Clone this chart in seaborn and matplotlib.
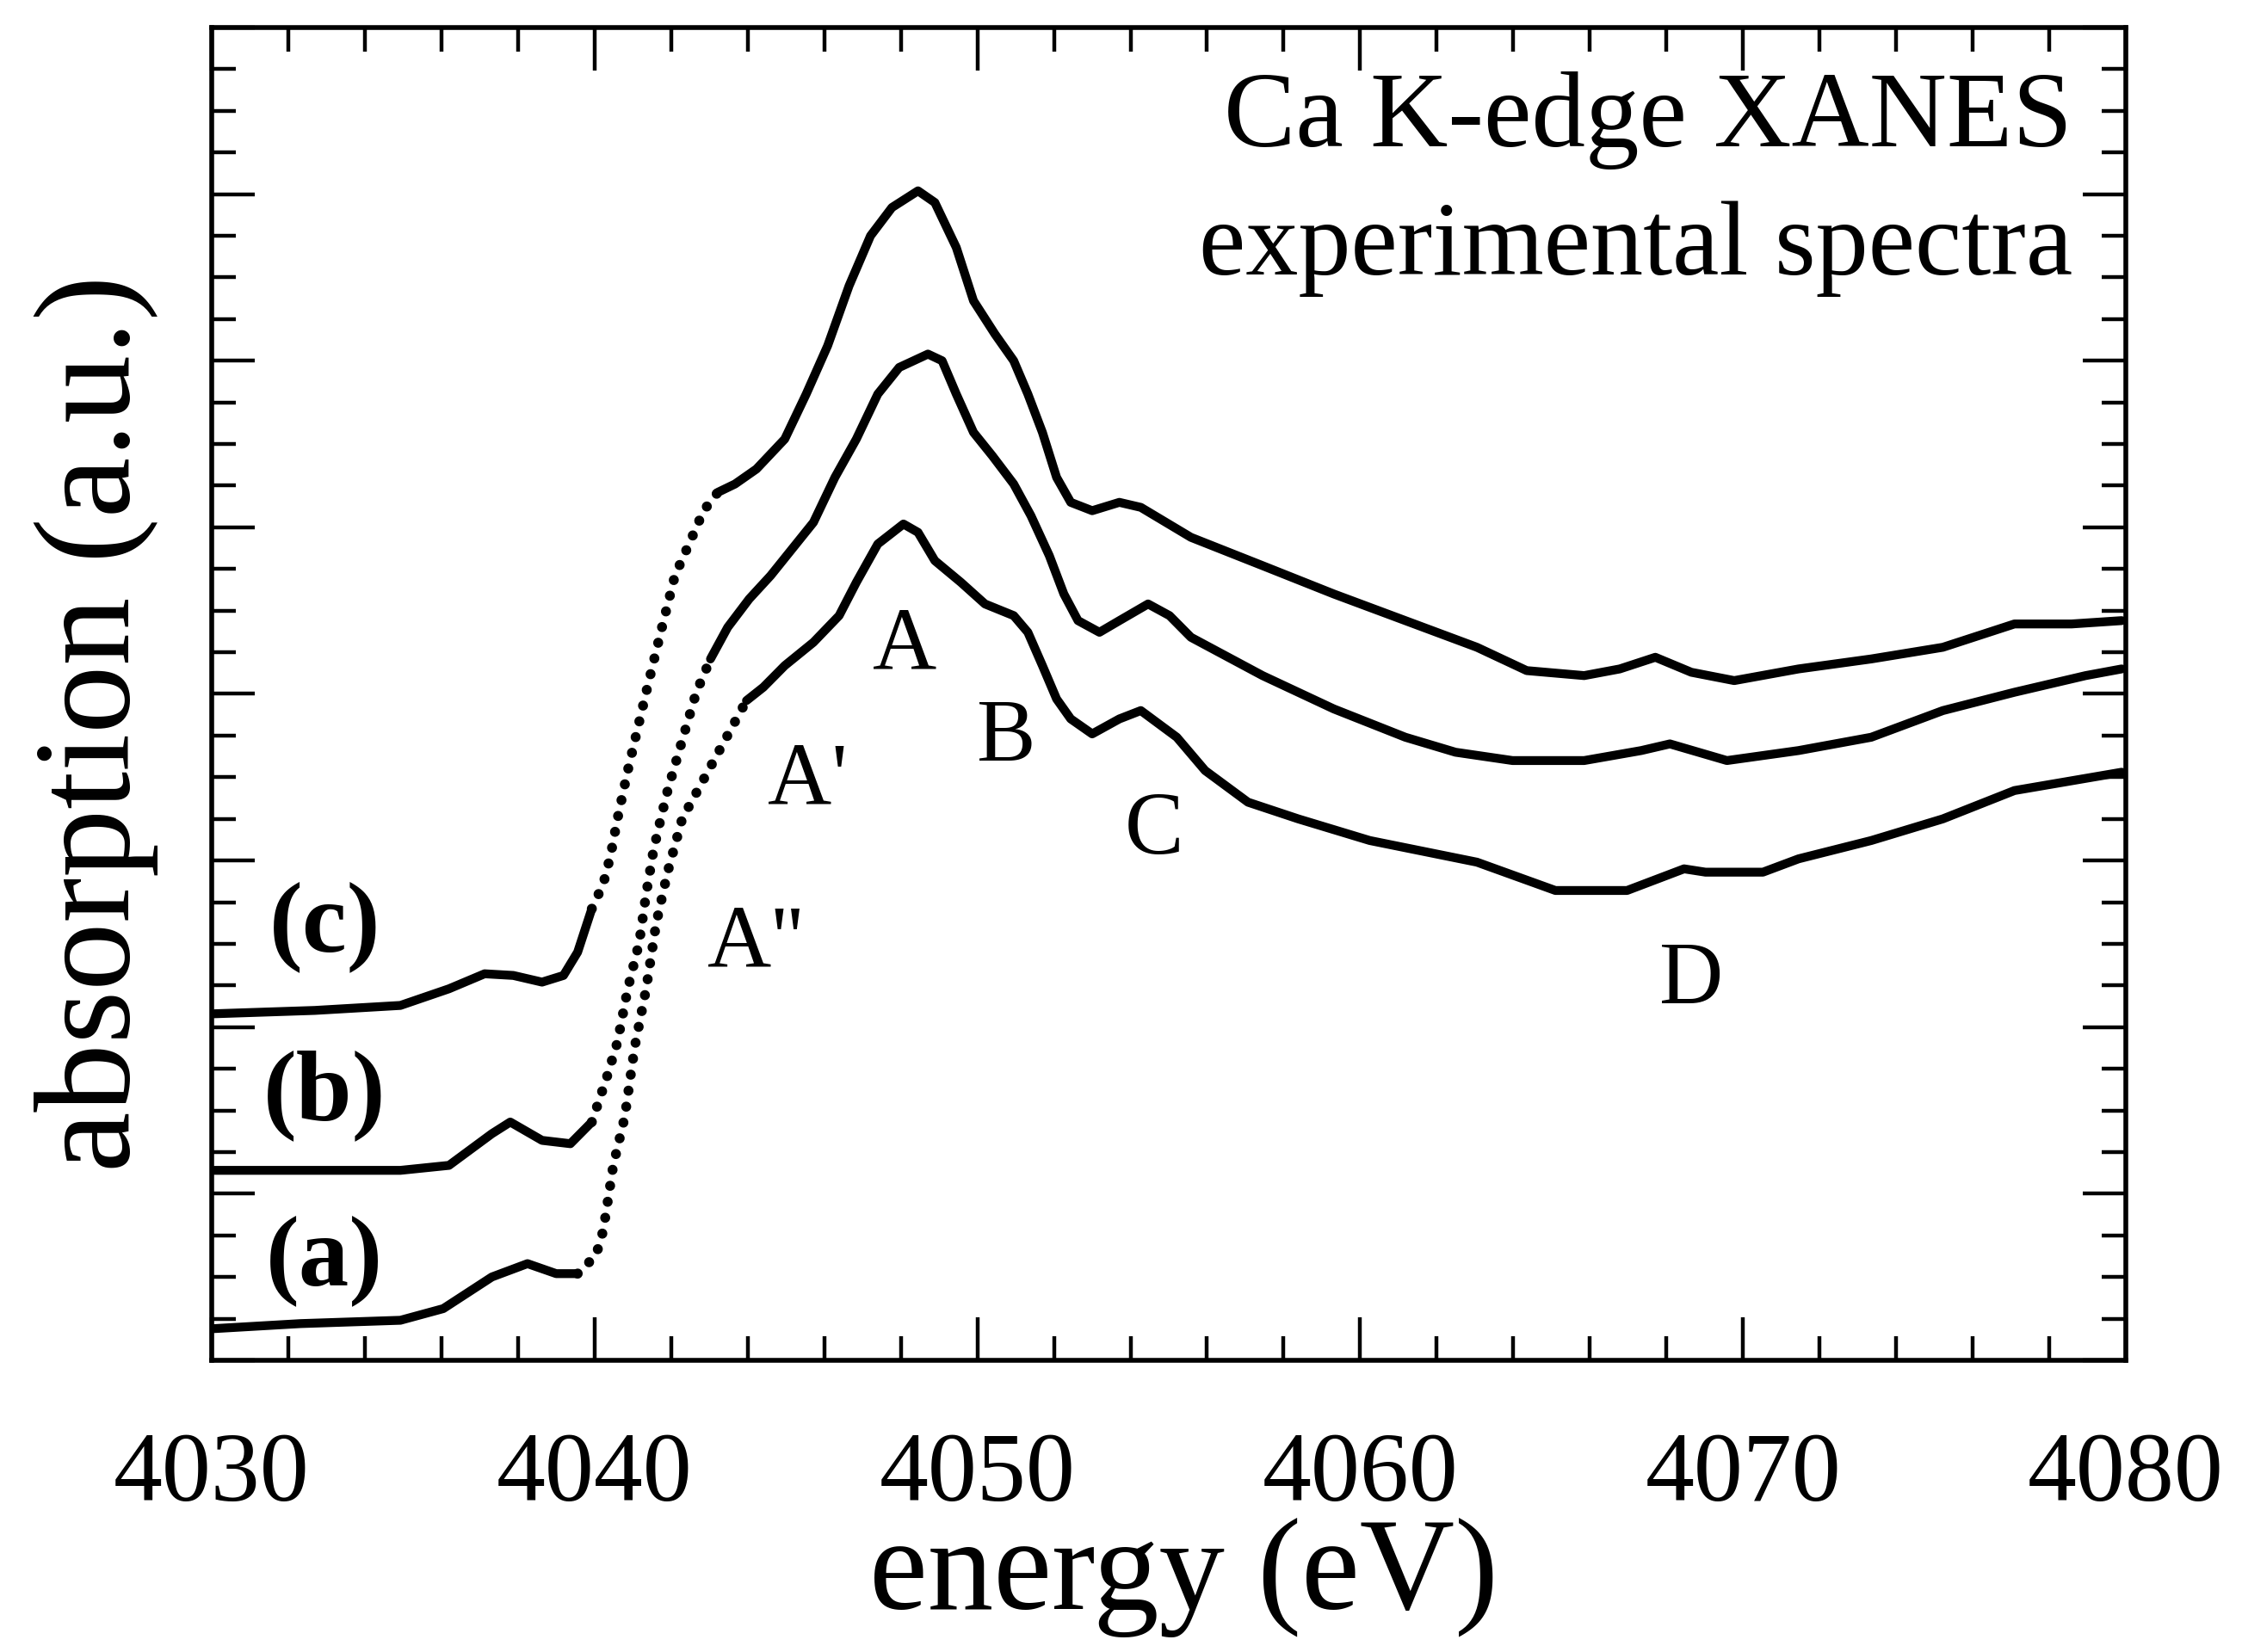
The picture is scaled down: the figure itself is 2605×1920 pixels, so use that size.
import numpy as np
import pandas as pd
import matplotlib
matplotlib.use("Agg")
import matplotlib.pyplot as plt
from matplotlib.ticker import MultipleLocator, NullFormatter
import seaborn as sns

energy_a = [4030.07, 4032.32, 4034.93, 4036.05, 4037.32, 4038.25, 4039.00, 4039.56, 4040.04,
            4040.23, 4040.49, 4040.79, 4041.05, 4041.35, 4041.61, 4041.91, 4042.29, 4043.97,
            4044.41, 4044.97, 4045.72, 4046.39, 4046.84, 4047.40, 4048.07, 4048.45, 4048.89,
            4049.57, 4050.20, 4050.95, 4051.32, 4051.70, 4052.07, 4052.44, 4053.00, 4053.71,
            4054.27, 4055.21, 4055.95, 4057.07, 4058.38, 4060.25, 4063.05, 4065.10, 4066.97,
            4068.46, 4069.02, 4070.52, 4071.45, 4073.35, 4075.22, 4077.09, 4079.89]
absorb_a = [0.19, 0.22, 0.24, 0.31, 0.50, 0.58, 0.52, 0.52, 0.63,
            0.78, 1.17, 1.46, 1.88, 2.23, 2.62, 2.93, 3.25, 3.96,
            4.04, 4.17, 4.31, 4.47, 4.67, 4.90, 5.02, 4.97, 4.80,
            4.67, 4.54, 4.47, 4.37, 4.17, 3.97, 3.85, 3.76, 3.85,
            3.90, 3.74, 3.54, 3.35, 3.25, 3.12, 2.99, 2.82, 2.82,
            2.95, 2.93, 2.93, 3.01, 3.12, 3.25, 3.42, 3.53]

energy_b = [4030.07, 4034.93, 4036.20, 4037.32, 4037.80, 4038.63, 4039.37, 4039.93, 4040.31,
            4040.60, 4040.87, 4041.17, 4041.35, 4041.54, 4041.73, 4041.91, 4042.29, 4042.66,
            4043.03, 4043.48, 4044.04, 4044.60, 4045.16, 4045.72, 4046.28, 4046.84, 4047.40,
            4047.96, 4048.71, 4049.08, 4049.45, 4049.90, 4050.39, 4050.95, 4051.40, 4051.88,
            4052.26, 4052.63, 4053.19, 4053.71, 4054.46, 4055.02, 4055.58, 4057.45, 4059.31,
            4061.18, 4062.49, 4063.98, 4065.85, 4067.34, 4068.09, 4069.58, 4071.45, 4073.35,
            4075.22, 4077.09, 4078.95, 4079.89]
absorb_b = [1.14, 1.14, 1.17, 1.36, 1.43, 1.32, 1.30, 1.43, 1.69,
            1.91, 2.23, 2.51, 2.80, 3.06, 3.25, 3.42, 3.72, 4.01,
            4.21, 4.40, 4.57, 4.71, 4.87, 5.03, 5.30, 5.53, 5.80,
            5.96, 6.04, 6.00, 5.80, 5.57, 5.43, 5.26, 5.07, 4.83,
            4.60, 4.44, 4.37, 4.44, 4.54, 4.47, 4.34, 4.11, 3.91,
            3.74, 3.65, 3.60, 3.60, 3.66, 3.70, 3.60, 3.66, 3.74,
            3.90, 4.01, 4.11, 4.15]

energy_c = [4030.07, 4032.69, 4034.93, 4036.20, 4037.13, 4037.88, 4038.63, 4039.19, 4039.56,
            4039.93, 4040.23, 4040.42, 4040.60, 4040.87, 4041.35, 4041.73, 4042.10, 4042.47,
            4042.85, 4043.22, 4043.67, 4044.23, 4044.97, 4045.53, 4046.09, 4046.65, 4047.21,
            4047.77, 4048.45, 4048.89, 4049.45, 4049.90, 4050.46, 4050.95, 4051.32, 4051.70,
            4052.07, 4052.44, 4053.00, 4053.71, 4054.27, 4055.58, 4057.45, 4059.31, 4061.18,
            4063.05, 4064.35, 4065.85, 4066.78, 4067.71, 4068.65, 4069.77, 4071.45, 4073.35,
            4075.22, 4077.09, 4078.58, 4079.89]
absorb_c = [2.08, 2.10, 2.13, 2.23, 2.32, 2.31, 2.27, 2.31, 2.45,
            2.71, 2.86, 3.03, 3.25, 3.54, 4.01, 4.37, 4.71, 4.90,
            5.10, 5.21, 5.26, 5.35, 5.53, 5.80, 6.09, 6.45, 6.75,
            6.92, 7.02, 6.95, 6.68, 6.36, 6.16, 6.00, 5.80, 5.57,
            5.30, 5.15, 5.10, 5.15, 5.12, 4.94, 4.77, 4.60, 4.44,
            4.28, 4.14, 4.11, 4.15, 4.22, 4.13, 4.08, 4.15, 4.21,
            4.28, 4.42, 4.42, 4.44]

# energy window where the sparse edge points show up as dots
edge_range = {"a": (4040.0, 4042.3), "b": (4040.3, 4043.0), "c": (4040.2, 4042.9)}

curve_labels = ["(a)", "(b)", "(c)"]
curve_label_x = [4032.95, 4032.95, 4032.95]
curve_label_y = [0.60, 1.59, 2.60]

feature_labels = ["A", "A'", "A''", "B", "C", "D"]
feature_x = [4048.11, 4045.57, 4044.19, 4050.76, 4054.61, 4068.65]
feature_y = [4.28, 3.47, 2.49, 3.73, 3.17, 2.27]

curves = {"a": (energy_a, absorb_a), "b": (energy_b, absorb_b), "c": (energy_c, absorb_c)}

sns.set_style("ticks")
plt.rcParams["font.family"] = ["Liberation Serif", "DejaVu Serif"]
for k in ("text.color", "axes.labelcolor", "xtick.color", "ytick.color", "axes.edgecolor"):
    plt.rcParams[k] = "black"

fig = plt.figure(figsize=(13.025, 9.6), dpi=200)
ax = fig.add_axes([0.0944, 0.1766, 0.8538, 0.8067])

for name, (xs, ys) in curves.items():
    df = pd.DataFrame({"energy": xs, "absorption": ys})
    lo, hi = edge_range[name]
    pre = df[df.energy <= lo]
    post = df[df.energy >= hi]
    inner = df[(df.energy >= lo) & (df.energy <= hi)]
    # include neighbours so segments join
    edge = df.iloc[max(inner.index.min() - 1, 0):inner.index.max() + 2]
    for part in (pre, post):
        sns.lineplot(data=part, x="energy", y="absorption", ax=ax, color="black",
                     lw=3.7, sort=False, estimator=None,
                     solid_joinstyle="round", solid_capstyle="round")
    sns.lineplot(data=edge, x="energy", y="absorption", ax=ax, color="black",
                 lw=4.2, sort=False, estimator=None,
                 linestyle=(0, (0.01, 1.6)), dash_capstyle="round")

ax.set_xlim(4030, 4080)
ax.set_ylim(0, 8)
ax.xaxis.set_major_locator(MultipleLocator(10))
ax.xaxis.set_minor_locator(MultipleLocator(2))
ax.yaxis.set_major_locator(MultipleLocator(1))
ax.yaxis.set_minor_locator(MultipleLocator(0.25))
ax.yaxis.set_major_formatter(NullFormatter())

ax.tick_params(which="both", direction="in", top=True, right=True, width=1.6, color="black")
ax.tick_params(which="major", length=18)
ax.tick_params(which="minor", length=10)
ax.tick_params(axis="x", which="major", labelsize=41, pad=30)
for s in ax.spines.values():
    s.set_linewidth(2.0)
    s.set_color("black")

ax.set_xlabel("energy (eV)", fontsize=55)
ax.xaxis.set_label_coords(0.508, -0.118)
ax.set_ylabel("absorption (a.u.)", fontsize=57)
ax.yaxis.set_label_coords(-0.028, 0.478)

for lab, x, y in zip(curve_labels, curve_label_x, curve_label_y):
    ax.text(x, y, lab, fontsize=42, fontweight="bold", ha="center", va="center")
for lab, x, y in zip(feature_labels, feature_x, feature_y):
    ax.text(x, y, lab, fontsize=37, ha="center", va="center")

ax.text(4078.6, 7.44, "Ca K-edge XANES", fontsize=45, ha="right", va="center")
ax.text(4078.6, 6.67, "experimental spectra", fontsize=44, ha="right", va="center")

fig.savefig("out.png", dpi=200, facecolor="white")
